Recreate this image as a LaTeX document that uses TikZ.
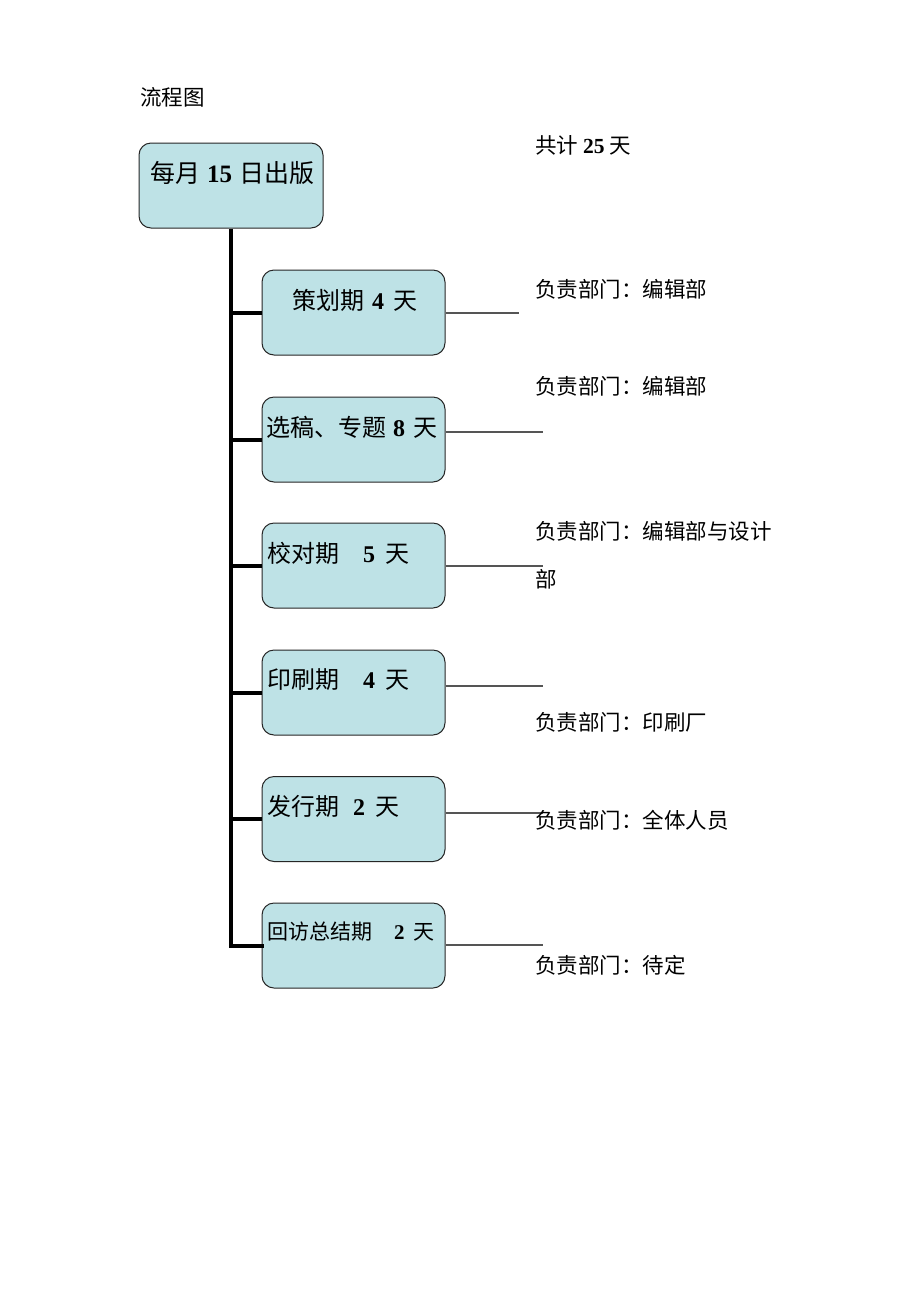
\documentclass[tikz,border=0pt]{standalone}
\usepackage{fontspec}
\setmainfont{Liberation Serif}
\newfontfamily\cjk{Noto Sans CJK SC}
\usetikzlibrary{positioning}

\definecolor{boxfill}{RGB}{190,226,230}
\definecolor{leadgray}{RGB}{85,85,85}
\newcommand\dg[1]{{\rmfamily\bfseries #1}}

\tikzset{
  phase/.style={draw=black!85, fill=boxfill, rounded corners=12pt, line width=1pt,
    minimum width=183pt, minimum height=85pt, inner sep=0pt},
  trunk/.style={line width=4pt},
  lead/.style={draw=leadgray, line width=1.2pt},
  note/.style={anchor=west, inner sep=0pt, font=\fontsize{21.5pt}{26pt}\selectfont\cjk},
  boxtext/.style={anchor=west, inner sep=0pt, font=\fontsize{24pt}{28pt}\selectfont\cjk},
}

\begin{document}
\begin{tikzpicture}[x=1pt, y=-1pt]
  \useasboundingbox (0,0) rectangle (920,1302);

  \node[note] (title) at (140,97) {流程图};

  % boxes
  \node[phase, minimum width=184pt] (top) at (231,185.5) {};
  \node[phase] (b1) at (353.5,312.5) {};
  \node[phase] (b2) at (353.5,439.5) {};
  \node[phase] (b3) at (353.5,565.5) {};
  \node[phase] (b4) at (353.5,692.5) {};
  \node[phase] (b5) at (353.5,819) {};
  \node[phase] (b6) at (353.5,945.5) {};

  % trunk and branches
  \draw[trunk] (top.south) -- (top.south |- b6.west);
  \draw[trunk] (top.south |- b1.west) -- (b1.west);
  \draw[trunk] (top.south |- b2.west) -- (b2.west);
  \draw[trunk] (top.south |- b3.west) -- (b3.west);
  \draw[trunk] (top.south |- b4.west) -- (b4.west);
  \draw[trunk] (top.south |- b5.west) -- (b5.west);
  \draw[trunk, line cap=rect] (top.south |- b6.west) -- (b6.west);

  % box texts
  \node[boxtext, font=\fontsize{25pt}{30pt}\selectfont\cjk] (ttop) at (150,173) {每月\hspace{7pt}\dg{15}\hspace{7pt}日出版};
  \node[boxtext] (t1) at (292,300) {策划期\hspace{8pt}\dg{4}\hspace{9pt}天};
  \node[boxtext] (t2) at (266,427) {选稿、专题\hspace{7pt}\dg{8}\hspace{8pt}天};
  \node[boxtext] (t3) at (267,553) {校对期\hspace{24pt}\dg{5}\hspace{10pt}天};
  \node[boxtext] (t4) at (267,680) {印刷期\hspace{24pt}\dg{4}\hspace{10pt}天};
  \node[boxtext] (t5) at (267,806) {发行期\hspace{14pt}\dg{2}\hspace{10pt}天};
  \node[boxtext, font=\fontsize{21pt}{26pt}\selectfont\cjk] (t6) at (267,932) {回访总结期\hspace{22pt}\dg{2}\hspace{9pt}天};

  % leads to the right
  \coordinate (e1) at (519,313);
  \coordinate (e2) at (543,432);
  \coordinate (e3) at (543,566);
  \coordinate (e4) at (543,686);
  \coordinate (e5) at (543,813);
  \coordinate (e6) at (543,945);
  \draw[lead] (b1.east |- e1) -- (e1);
  \draw[lead] (b2.east |- e2) -- (e2);
  \draw[lead] (b3.east |- e3) -- (e3);
  \draw[lead] (b4.east |- e4) -- (e4);
  \draw[lead] (b5.east |- e5) -- (e5);
  \draw[lead] (b6.east |- e6) -- (e6);

  % notes
  \node[note] (total) at (535,145) {共计 \dg{25} 天};
  \node[note] (n1) at (535,289) {负责部门：编辑部};
  \node[note] (n2) at (535,386) {负责部门：编辑部};
  \node[note] (n3) at (535,531) {负责部门：编辑部与设计};
  \node[note] (n3b) at (535,579) {部};
  \node[note] (n4) at (535,722) {负责部门：印刷厂};
  \node[note] (n5) at (535,820) {负责部门：全体人员};
  \node[note] (n6) at (535,965) {负责部门：待定};
\end{tikzpicture}
\end{document}
